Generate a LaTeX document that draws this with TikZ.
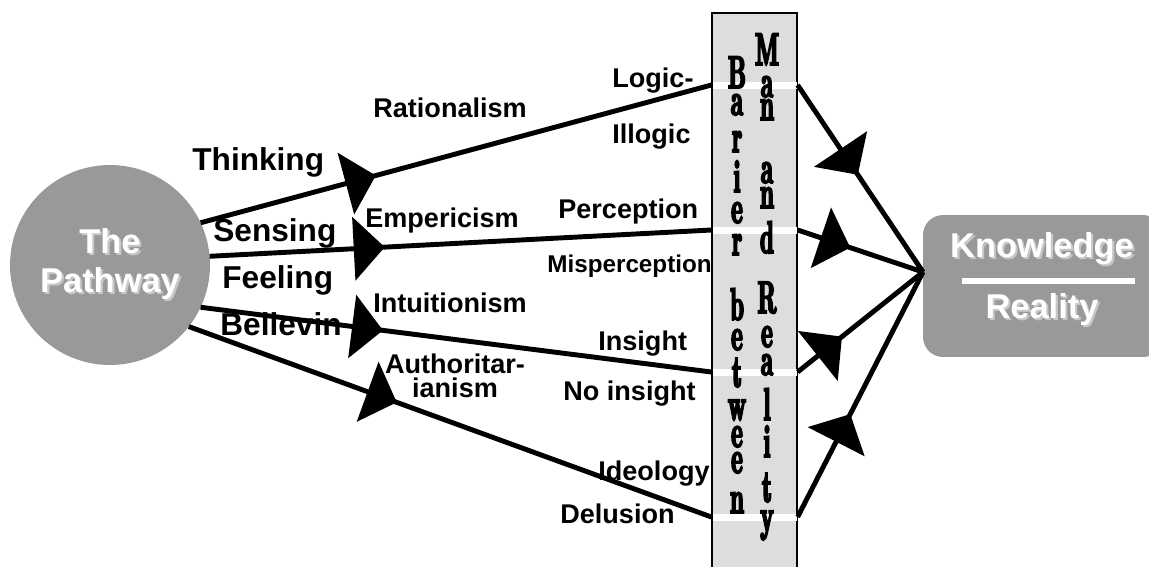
\documentclass[tikz,border=0pt]{standalone}
\usepackage{fontspec}
\setmainfont{Liberation Sans}
\newfontfamily\barfont{lmroman10-bold.otf}[FakeStretch=0.47,FakeBold=4]
\usetikzlibrary{arrows.meta,decorations.markings}
\definecolor{disc}{RGB}{153,153,153}
\definecolor{wall}{RGB}{221,221,221}
\definecolor{shade}{RGB}{200,200,200}
\newcommand{\shd}[1]{\rlap{\kern1.2pt\raisebox{-1.2pt}{\textcolor{shade}{#1}}}#1}

\begin{document}
\begin{tikzpicture}[x=0.02cm, y=-0.02cm,
    pathway/.style={circle, fill=disc, minimum size=4cm, inner sep=0pt, outer sep=0pt,
              text=white, align=center, font=\fontsize{19.6}{22.2}\selectfont\bfseries},
    knowbox/.style={rectangle, fill=disc, rounded corners=0.4cm, minimum width=4.8cm,
              minimum height=2.84cm, inner sep=0pt, outer sep=0pt},
    kntext/.style={text=white, inner sep=0pt, anchor=base,
              font=\fontsize{19.6}{22}\selectfont\bfseries},
    wallbox/.style={rectangle, draw=black, fill=wall, line width=0.7pt,
              minimum width=1.7cm, minimum height=11.14cm, inner sep=0pt},
    gap/.style={fill=white},
    glyph/.style={inner sep=0pt, anchor=base, font=\barfont\fontsize{26}{26}\selectfont},
    road/.style={draw=black, line width=2.8pt},
    mid/.style={postaction={decorate}, decoration={markings,
              mark=at position #1 with {\arrow{Triangle[length=0.62cm,width=1.26cm]}}}},
    way/.style={inner sep=0pt, anchor=base west, font=\fontsize{18}{20}\selectfont\bfseries},
    lab/.style={inner sep=0pt, anchor=base west, font=\fontsize{15.4}{17}\selectfont\bfseries}]
  \useasboundingbox (0,0) rectangle (1149,566);

  % ---------- the two ends ---------------------------------------------------
  \node[pathway] (path) at (110,265) {\shd{The}\\\shd{Pathway}};
  \node[knowbox] (know) at (1043,286) {};
  \node[kntext] (kn) at (1042,257) {\shd{Knowledge}};
  \node[kntext] (re) at (1042,318) {\shd{Reality}};
  \draw[white, line width=0.12cm] (962,281) -- (1135,281);
  \coordinate (hub) at (923,272);

  % ---------- the barrier ----------------------------------------------------
  \node[wallbox] (bar) at (754.5,291.5) {};
  \foreach \g/\yy in {g1/85,g2/230,g3/372,g4/517} {
    \coordinate (\g) at (754.5,\yy);
    \fill[gap] (712.5,\yy-3.5) rectangle (796.5,\yy+3.5);
  }
  \foreach \ch/\yy [count=\k] in {B/88,a/115,r/152,i/192,e/223,r/255,
      b/320,e/350,t/387,w/420,e/447,e/473,n/513}
    \node[glyph] (lb\k) at (737,\yy) {\ch};
  \foreach \ch/\yy [count=\k] in {M/65,a/97,n/120,a/183,n/208,d/253,
      R/313,e/347,a/375,l/420,i/457,t/502,y/531}
    \node[glyph] (rb\k) at (767,\yy) {\ch};

  % ---------- pathway to barrier ---------------------------------------------
  \draw[road, mid=0.343] (path.25.5) -- (g1 -| bar.west);
  \draw[road, mid=0.349] (path.5.7) -- (g2 -| bar.west);
  \draw[road, mid=0.357] (path.-25) -- (g3 -| bar.west);
  \draw[road, mid=0.398] (path.-38) -- (g4 -| bar.west);

  % ---------- barrier to knowledge -------------------------------------------
  \draw[road, mid=0.48]  (g1 -| bar.east) -- (hub);
  \draw[road, mid=0.42]  (g2 -| bar.east) -- (hub);
  \draw[road, mid=0.354] (g3 -| bar.east) -- (hub);
  \draw[road, mid=0.42]  (g4 -| bar.east) -- (hub);

  % ---------- labels ---------------------------------------------------------
  \node[way] (thk) at (192,170) {Thinking};
  \node[way] (sns) at (213,241) {Sensing};
  \node[way] (fel) at (222,288) {Feeling};
  \node[way] (blv) at (220,335) {Believin};

  \node[lab] (rat) at (373,117) {Rationalism};
  \node[lab] (emp) at (365,227) {Empericism};
  \node[lab] (int) at (373,312) {Intuitionism};
  \node[lab, anchor=base, align=center, font=\fontsize{15.4}{13.6}\selectfont\bfseries]
    (aut) at (455,397) {Authoritar-\\ianism};

  \node[lab] (lgc) at (612,87)  {Logic-};
  \node[lab] (ilg) at (612,143) {Illogic};
  \node[lab] (per) at (558,218) {Perception};
  \node[lab, font=\fontsize{13.8}{16}\selectfont\bfseries] (mis) at (547,272) {Misperception};
  \node[lab] (ins) at (598,350) {Insight};
  \node[lab] (nin) at (563,400) {No insight};
  \node[lab] (ide) at (598,480) {Ideology};
  \node[lab] (del) at (560,523) {Delusion};
\end{tikzpicture}
\end{document}
